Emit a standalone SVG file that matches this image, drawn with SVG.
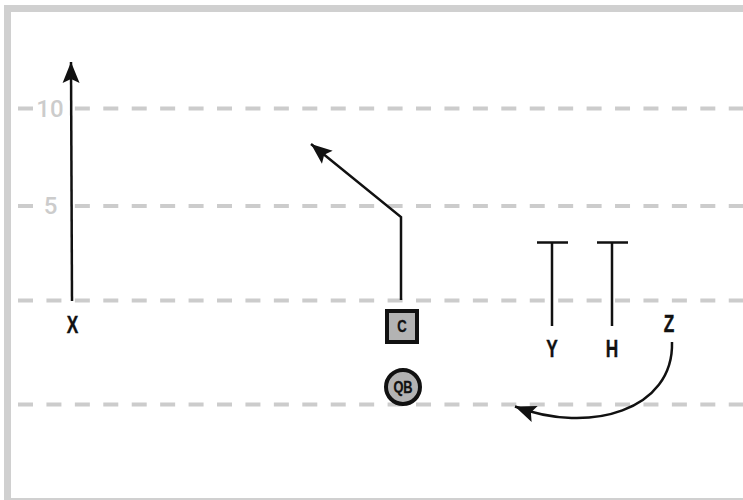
<svg xmlns="http://www.w3.org/2000/svg" width="743" height="500" viewBox="0 0 743 500">
<style>
.yard{stroke:#cccccc;stroke-width:4;stroke-dasharray:15 13.43;fill:none}
.ylab{font-family:Roboto,"Liberation Sans",sans-serif;font-weight:500;font-size:24px;fill:#cccccc;text-anchor:middle}
.route{stroke:#111;stroke-width:2.5;fill:none}
.pl{font-family:"Liberation Sans","DejaVu Sans",sans-serif;font-weight:bold;font-size:24px;fill:#111;text-anchor:middle;stroke:#111;stroke-width:0.4}
.small{font-size:16px;stroke-width:0.3}
.shape{fill:#b3b3b3;stroke:#111;stroke-width:4}
</style>
<defs>
<marker id="arr" viewBox="-23 -10 25 20" refX="0" refY="0" markerWidth="25" markerHeight="20" markerUnits="userSpaceOnUse" orient="auto">
<path d="M0,0 L-21,-8.5 L-17,0 L-21,8.5 Z" fill="#111"/>
</marker>
</defs>
<rect width="743" height="500" fill="#fff"/>
<rect x="7.5" y="8.5" width="800" height="493" fill="none" stroke="#d0d0d0" stroke-width="7"/>
<g id="field">
<line class="yard" x1="18" y1="108.5" x2="743" y2="108.5"/>
<line class="yard" x1="18" y1="206" x2="743" y2="206"/>
<line class="yard" x1="18" y1="300.5" x2="743" y2="300.5"/>
<line class="yard" x1="18" y1="404.5" x2="743" y2="404.5"/>
<rect x="33" y="94" width="41" height="28" fill="#fff"/>
<rect x="33" y="192" width="41" height="28" fill="#fff"/>
<text class="ylab" x="50" y="117">10</text>
<text class="ylab" x="50.5" y="214">5</text>
</g>
<g id="connectors">
<path class="route" d="M72,301 L71,62" marker-end="url(#arr)"/>
<path class="route" d="M401,300 L401,217 L311,144" marker-end="url(#arr)"/>
<path class="route" d="M552,326 L552,242.5 M537,242.5 L568,242.5"/>
<path class="route" d="M612,326 L612,242.5 M597,242.5 L628,242.5"/>
<path class="route" d="M672,342 C674,410 590,435 515,406.5" marker-end="url(#arr)"/>
</g>
<g id="X"><text class="pl" transform="translate(72.5,333) scale(0.72,1)">X</text></g>
<g id="C"><rect class="shape" x="387" y="311" width="30" height="31"/><text class="pl small" transform="translate(402,332) scale(0.82,1)">C</text></g>
<g id="QB"><circle class="shape" cx="403" cy="387" r="17"/><text class="pl small" transform="translate(403,392.8) scale(0.8,1)">QB</text></g>
<g id="Y"><text class="pl" transform="translate(552,357) scale(0.72,1)">Y</text></g>
<g id="H"><text class="pl" transform="translate(612,357) scale(0.72,1)">H</text></g>
<g id="Z"><text class="pl" transform="translate(669,332) scale(0.72,1)">Z</text></g>
</svg>
